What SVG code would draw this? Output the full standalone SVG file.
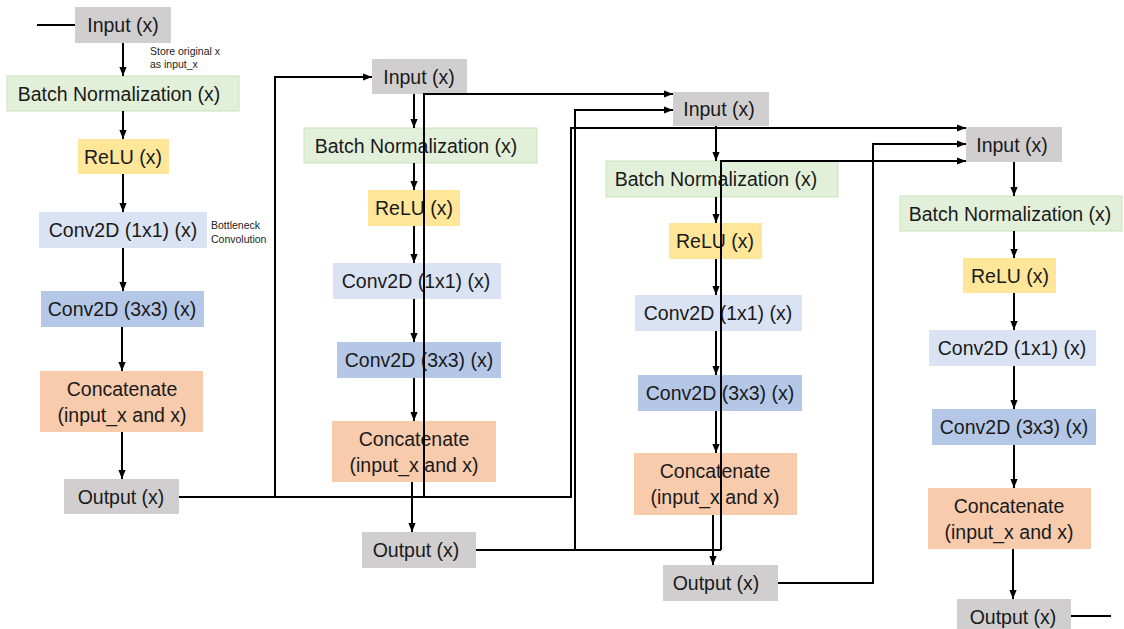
<svg xmlns="http://www.w3.org/2000/svg" width="1124" height="629" viewBox="0 0 1124 629">
<defs>
<marker id="ah" viewBox="0 0 10 10" markerWidth="9" markerHeight="9" markerUnits="userSpaceOnUse" refX="10" refY="5" orient="auto">
<path d="M0,1 L10,5 L0,9 z" fill="#000"/>
</marker>
<style>
text{font-family:"Liberation Sans",Arial,sans-serif;font-size:19.5px;fill:#1a1a1a;text-anchor:middle}
.note{font-size:10.5px;text-anchor:start;fill:#222}
.io{fill:#d0cece}
.bn{fill:#e2f0d9;stroke:#c9e3b9;stroke-width:1}
.relu{fill:#ffe699}
.c1{fill:#dae3f3}
.c3{fill:#b4c7e7}
.cat{fill:#f8cbad}
.ln{fill:none;stroke:#000;stroke-width:2}
.ar{fill:none;stroke:#000;stroke-width:2;marker-end:url(#ah)}
</style>
</defs>
<rect width="1124" height="629" fill="#fff"/>

<!-- Column 1 -->
<g id="input1"><rect class="io" x="75" y="7" width="96" height="36"/><text x="123" y="32">Input (x)</text></g>
<g id="bn1"><rect class="bn" x="7" y="76" width="232" height="35"/><text x="119" y="101">Batch Normalization (x)</text></g>
<g id="relu1"><rect class="relu" x="78" y="139" width="91" height="35"/><text x="123" y="164">ReLU (x)</text></g>
<g id="conv1x1_1"><rect class="c1" x="39" y="212" width="168" height="36"/><text x="123" y="237">Conv2D (1x1) (x)</text></g>
<g id="conv3x3_1"><rect class="c3" x="41" y="291" width="163" height="36"/><text x="122" y="316">Conv2D (3x3) (x)</text></g>
<g id="concat1"><rect class="cat" x="40" y="371" width="163" height="61"/><text x="122" y="396">Concatenate</text><text x="122" y="422">(input_x and x)</text></g>
<g id="output1"><rect class="io" x="64" y="479" width="115" height="35"/><text x="121" y="504">Output (x)</text></g>
<g id="note1"><text class="note" x="150" y="55">Store original x</text><text class="note" x="150" y="68">as input_x</text></g>
<g id="note2"><text class="note" x="211" y="229">Bottleneck</text><text class="note" x="211" y="243">Convolution</text></g>

<!-- Column 2 -->
<g id="input2"><rect class="io" x="372" y="59" width="95" height="35"/><text x="419" y="84">Input (x)</text></g>
<g id="bn2"><rect class="bn" x="304" y="128" width="233" height="35"/><text x="416" y="153">Batch Normalization (x)</text></g>
<g id="relu2"><rect class="relu" x="368" y="190" width="92" height="36"/><text x="414" y="215">ReLU (x)</text></g>
<g id="conv1x1_2"><rect class="c1" x="333" y="263" width="168" height="36"/><text x="416" y="288">Conv2D (1x1) (x)</text></g>
<g id="conv3x3_2"><rect class="c3" x="337" y="342" width="164" height="36"/><text x="419" y="367">Conv2D (3x3) (x)</text></g>
<g id="concat2"><rect class="cat" x="332" y="421" width="164" height="61"/><text x="414" y="446">Concatenate</text><text x="414" y="472">(input_x and x)</text></g>
<g id="output2"><rect class="io" x="362" y="532" width="114" height="36"/><text x="416" y="557">Output (x)</text></g>

<!-- Column 3 -->
<g id="input3"><rect class="io" x="673" y="92" width="96" height="34"/><text x="719" y="116">Input (x)</text></g>
<g id="bn3"><rect class="bn" x="606" y="161" width="232" height="36"/><text x="716" y="186">Batch Normalization (x)</text></g>
<g id="relu3"><rect class="relu" x="669" y="223" width="93" height="36"/><text x="715" y="248">ReLU (x)</text></g>
<g id="conv1x1_3"><rect class="c1" x="635" y="295" width="167" height="36"/><text x="718" y="320">Conv2D (1x1) (x)</text></g>
<g id="conv3x3_3"><rect class="c3" x="638" y="375" width="164" height="36"/><text x="720" y="400">Conv2D (3x3) (x)</text></g>
<g id="concat3"><rect class="cat" x="634" y="453" width="163" height="62"/><text x="715" y="478">Concatenate</text><text x="715" y="504">(input_x and x)</text></g>
<g id="output3"><rect class="io" x="663" y="565" width="115" height="36"/><text x="716" y="590">Output (x)</text></g>

<!-- Column 4 -->
<g id="input4"><rect class="io" x="966" y="127" width="96" height="35"/><text x="1012" y="152">Input (x)</text></g>
<g id="bn4"><rect class="bn" x="900" y="196" width="222" height="35"/><text x="1010" y="221">Batch Normalization (x)</text></g>
<g id="relu4"><rect class="relu" x="963" y="258" width="93" height="35"/><text x="1010" y="283">ReLU (x)</text></g>
<g id="conv1x1_4"><rect class="c1" x="929" y="330" width="167" height="36"/><text x="1012" y="355">Conv2D (1x1) (x)</text></g>
<g id="conv3x3_4"><rect class="c3" x="932" y="409" width="164" height="36"/><text x="1014" y="434">Conv2D (3x3) (x)</text></g>
<g id="concat4"><rect class="cat" x="928" y="488" width="163" height="61"/><text x="1009" y="513">Concatenate</text><text x="1009" y="539">(input_x and x)</text></g>
<g id="output4"><rect class="io" x="957" y="599" width="114" height="36"/><text x="1013" y="624">Output (x)</text></g>

<g id="connectors">
<!-- column 1 -->
<path class="ln" d="M37,25 H75"/>
<path class="ar" d="M123,43 V76"/>
<path class="ar" d="M123,111 V139"/>
<path class="ar" d="M123,174 V212"/>
<path class="ar" d="M123,248 V291"/>
<path class="ar" d="M122,327 V371"/>
<path class="ar" d="M122,432 V479"/>
<!-- column 2 -->
<path class="ar" d="M414,94 V128"/>
<path class="ar" d="M414,163 V190"/>
<path class="ar" d="M414,226 V263"/>
<path class="ar" d="M414,299 V342"/>
<path class="ar" d="M414,378 V421"/>
<path class="ar" d="M412,482 V532"/>
<!-- column 3 -->
<path class="ar" d="M716,126 V161"/>
<path class="ar" d="M716,197 V223"/>
<path class="ar" d="M716,259 V295"/>
<path class="ar" d="M716,331 V375"/>
<path class="ar" d="M716,411 V453"/>
<path class="ar" d="M713,515 V565"/>
<!-- column 4 -->
<path class="ar" d="M1014,162 V196"/>
<path class="ar" d="M1014,231 V258"/>
<path class="ar" d="M1014,293 V330"/>
<path class="ar" d="M1014,366 V409"/>
<path class="ar" d="M1014,445 V488"/>
<path class="ar" d="M1013,549 V599"/>
<!-- dense connections from Output1 -->
<path class="ln" d="M179,497 H572"/>
<path class="ar" d="M275,497 V77 H372"/>
<path class="ar" d="M424,497 V94 H673"/>
<path class="ar" d="M571,497 V128 H966"/>
<!-- from Output2 -->
<path class="ln" d="M476,550 H721"/>
<path class="ar" d="M575,550 V110 H673"/>
<path class="ar" d="M721,550 V161 H966"/>
<!-- from Output3 -->
<path class="ar" d="M778,583 H873 V144 H966"/>
<!-- Output4 -->
<path class="ln" d="M1071,616 H1111"/>
</g>
</svg>
